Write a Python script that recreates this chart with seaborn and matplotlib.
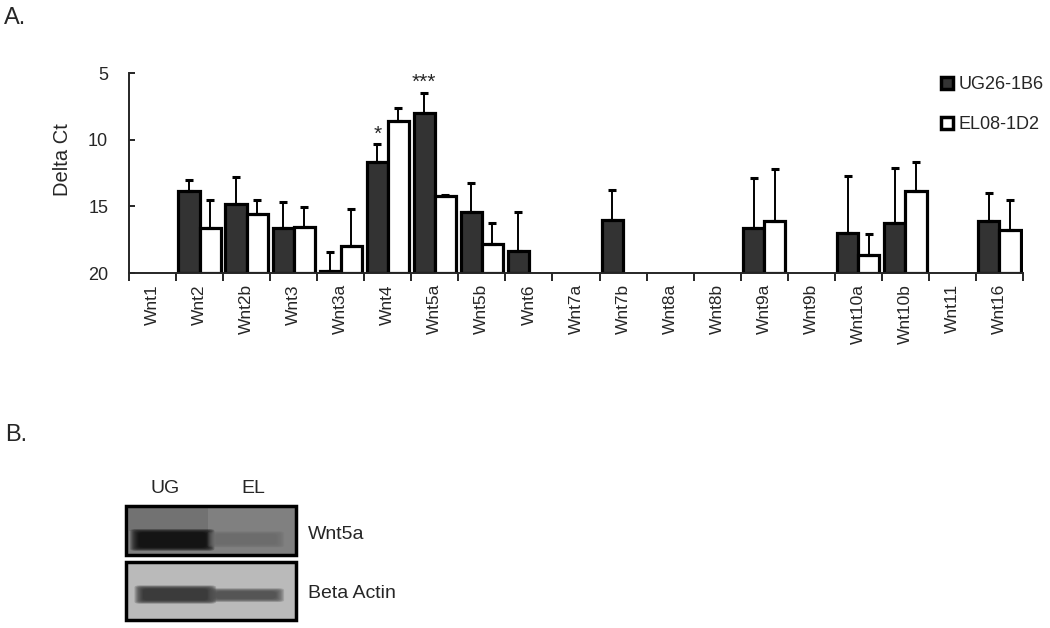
import numpy as np
import pandas as pd
import seaborn as sns
import matplotlib.pyplot as plt
from matplotlib.patches import Rectangle, FancyBboxPatch
from matplotlib.lines import Line2D

nan = np.nan

genes = ["Wnt1", "Wnt2", "Wnt2b", "Wnt3", "Wnt3a", "Wnt4", "Wnt5a", "Wnt5b", "Wnt6",
         "Wnt7a", "Wnt7b", "Wnt8a", "Wnt8b", "Wnt9a", "Wnt9b", "Wnt10a", "Wnt10b",
         "Wnt11", "Wnt16"]
lines = ["UG26-1B6", "EL08-1D2"]

# Delta Ct per gene (missing = not detected)
ug_ct = [nan, 13.85, 14.85, 16.6, 19.85, 11.7, 7.97, 15.43, 18.38, nan, 16.05,
         nan, nan, 16.6, nan, 17.0, 16.25, nan, 16.13]
el_ct = [nan, 16.6, 15.55, 16.55, 17.95, 8.6, 14.25, 17.8, nan, nan, nan,
         nan, nan, 16.07, nan, 18.63, 13.87, nan, 16.8]
ug_sd = [nan, 0.85, 2.05, 1.9, 1.45, 1.35, 1.5, 2.18, 2.93, nan, 2.25,
         nan, nan, 3.75, nan, 4.25, 4.15, nan, 2.13]
el_sd = [nan, 2.05, 1.0, 1.5, 2.75, 1.0, 0.1, 1.55, nan, nan, nan,
         nan, nan, 3.87, nan, 1.53, 2.2, nan, 2.25]

star_genes = ["Wnt4", "Wnt5a"]
star_text = ["*", "***"]

ct_floor = 20
y_ticks = [20, 15, 10, 5]

blot_lanes = ["UG", "EL"]
blot_rows = ["Wnt5a", "Beta Actin"]

sns.set_style("ticks")
plt.rcParams["font.family"] = ["Liberation Sans", "DejaVu Sans"]

df = pd.DataFrame({
    "gene": genes * 2,
    "line": [lines[0]] * len(genes) + [lines[1]] * len(genes),
    "ct": ug_ct + el_ct,
    "sd": ug_sd + el_sd,
})
# bars rise from Ct=20 towards lower Ct, so plot the distance from the floor
df["height"] = ct_floor - df["ct"]

fig = plt.figure(figsize=(10.5, 6.28), dpi=100)
ax = fig.add_axes([129 / 1050, 1 - 273 / 628, 894 / 1050, 200 / 628])

sns.barplot(data=df, x="gene", y="height", hue="line", order=genes, hue_order=lines,
            palette={lines[0]: "#333333", lines[1]: "white"}, edgecolor="black",
            linewidth=2.3, width=0.9, gap=0, legend=False, ax=ax)

w = 0.9 / 2
for k, ln in enumerate(lines):
    sub = df[df["line"] == ln].reset_index(drop=True)
    xs = np.arange(len(genes)) + (k - 0.5) * w
    ok = sub["height"].notna()
    ax.errorbar(xs[ok], sub["height"][ok], yerr=[np.zeros(ok.sum()), sub["sd"][ok]],
                fmt="none", ecolor="black", elinewidth=1.4, capsize=3, capthick=2.2,
                zorder=1)

for g, s in zip(star_genes, star_text):
    i = genes.index(g)
    top = ct_floor - (ug_ct[i] - ug_sd[i])
    ax.text(i - w / 2, top + 0.35, s, ha="center", va="baseline", fontsize=15)

ax.set_xlim(-0.5, len(genes) - 0.5)
ax.set_ylim(0, ct_floor - 5)
ax.set_yticks([ct_floor - t for t in y_ticks])
ax.set_yticklabels([str(t) for t in y_ticks], fontsize=13)
ax.set_xticks(range(len(genes)))
ax.set_xticklabels(genes, rotation=90, fontsize=12.5)
ax.set_xticks(np.arange(-0.5, len(genes), 1), minor=True)
ax.tick_params(axis="x", which="major", length=0, pad=8)
ax.tick_params(axis="x", which="minor", length=6, width=1.4, direction="out")
ax.tick_params(axis="y", direction="in", length=4, width=1.4, pad=15)
ax.set_xlabel("")
ax.set_ylabel("")
sns.despine(ax=ax)
for sp in ["left", "bottom"]:
    ax.spines[sp].set_linewidth(1.4)

fig.text(63 / 1050, 1 - 160 / 628, "Delta Ct", rotation=90, ha="center", va="center",
         fontsize=14.5)

handles = [Line2D([], [], ls="none", marker="s", markersize=8, markeredgewidth=2.5,
                  markeredgecolor="black", markerfacecolor=c)
           for c in ["#333333", "white"]]
fig.legend(handles, lines, loc="upper left", bbox_to_anchor=(941 / 1050, 1 - 76 / 628),
           frameon=False, fontsize=13, handlelength=0.7, handletextpad=0.25,
           labelspacing=1.3, borderpad=0, borderaxespad=0)

fig.text(4 / 1050, 1 - 24 / 628, "A.", fontsize=17, va="baseline")
fig.text(5 / 1050, 1 - 441 / 628, "B.", fontsize=17, va="baseline")

# panel B: western blot sketch
bx = fig.add_axes([126 / 1050, 1 - 621 / 628, 170 / 1050, 115 / 628])
bx.set_xlim(0, 1)
bx.set_ylim(1, 0)
bx.axis("off")

boxes = [(0.0, 0.0, 0.43, 0.5), (0.0, 0.49, 0.5, 0.73)]
for (x0, y0, h, grey) in boxes:
    bx.add_patch(Rectangle((x0, y0), 1.0, h, facecolor=str(grey), edgecolor="none"))
# darker upper smear on UG lane of the Wnt5a blot
bx.add_patch(Rectangle((0.02, 0.02), 0.46, 0.2, facecolor="0.4", edgecolor="none", alpha=0.5))

bands = [
    # x0, x1, y0, y1, grey
    (0.075, 0.47, 0.23, 0.36, 0.02),
    (0.53, 0.88, 0.25, 0.33, 0.42),
    (0.1, 0.48, 0.72, 0.82, 0.16),
    (0.53, 0.88, 0.745, 0.805, 0.28),
]
for (x0, x1, y0, y1, grey) in bands:
    for pad in np.linspace(0.05, 0.0, 8):
        bx.add_patch(FancyBboxPatch((x0, y0), x1 - x0, y1 - y0,
                                    boxstyle=f"round,pad={pad:.3f},rounding_size=0.03",
                                    facecolor=str(grey), edgecolor="none", alpha=0.22,
                                    mutation_aspect=0.6))

for (x0, y0, h, grey) in boxes:
    bx.add_patch(Rectangle((x0, y0), 1.0, h, facecolor="none", edgecolor="black",
                           linewidth=2.5, clip_on=False))

for lane, xc in zip(blot_lanes, [0.23, 0.75]):
    bx.text(xc, -0.15, lane, ha="center", va="center", fontsize=14, clip_on=False)
for row, yc in zip(blot_rows, [0.25, 0.76]):
    bx.text(1.07, yc, row, ha="left", va="center", fontsize=14, clip_on=False)

fig.savefig("out.png", dpi=100)
